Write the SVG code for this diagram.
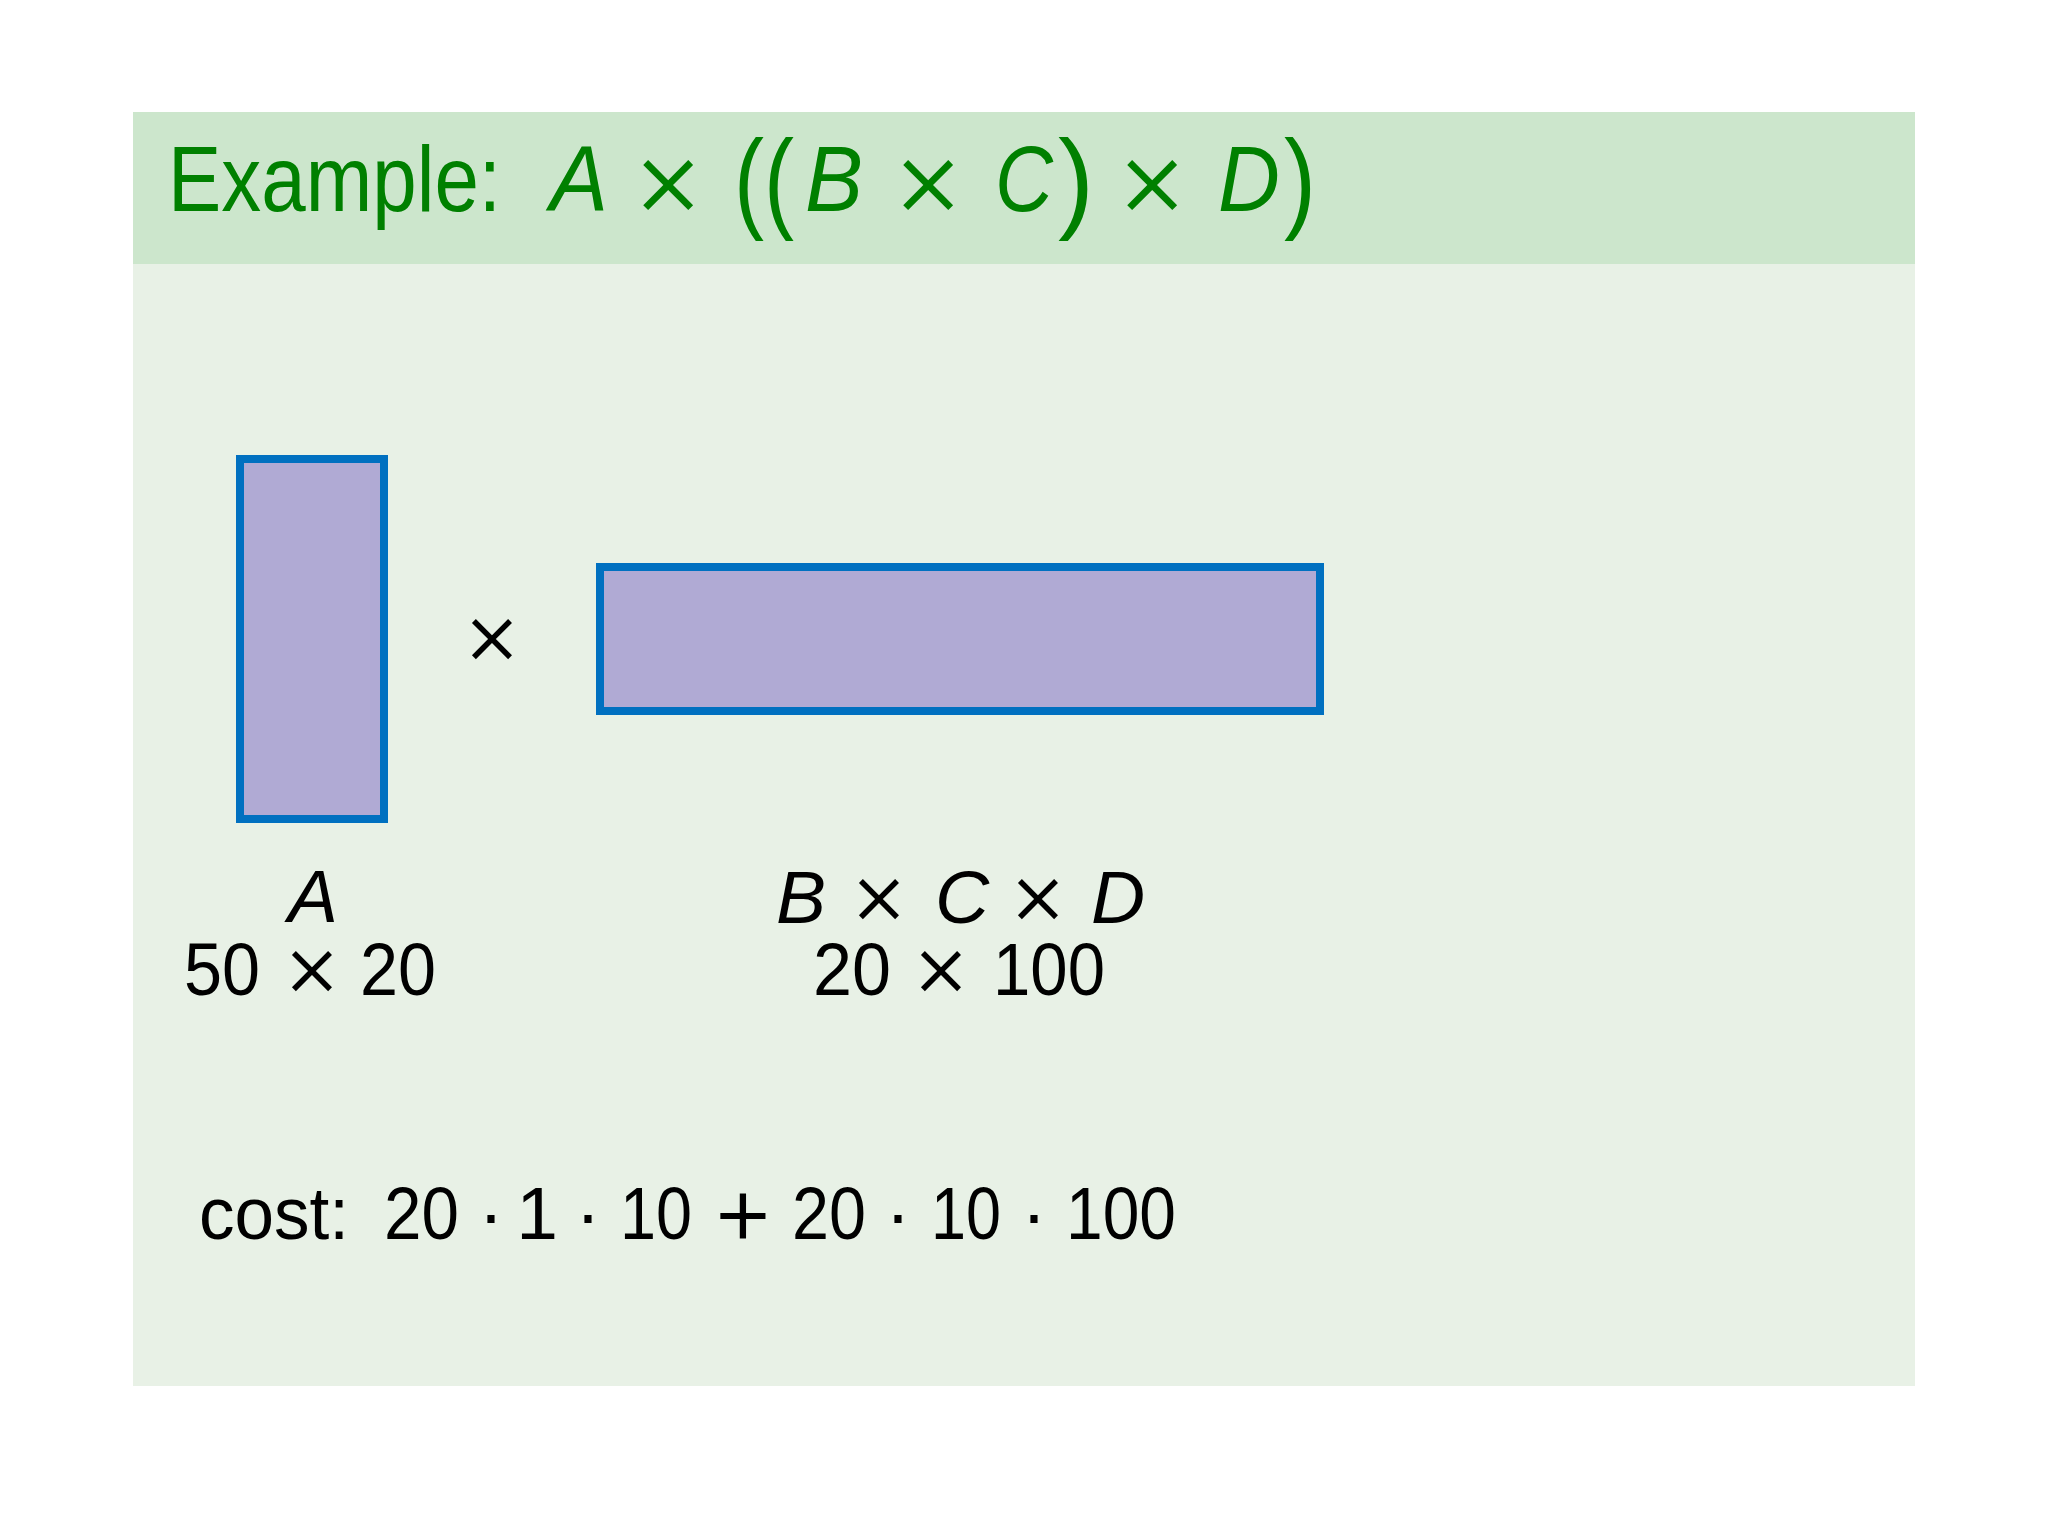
<svg xmlns="http://www.w3.org/2000/svg" width="2048" height="1536" viewBox="0 0 2048 1536">
<style>
.t{font-family:"Liberation Sans","DejaVu Sans",sans-serif;}
.title{fill:#008000;font-size:92px;}
.blk{fill:#000000;font-size:75px;}
.it{font-style:italic;}
.op{font-family:Inter,"Open Sans","Liberation Sans",sans-serif;font-weight:300;font-style:normal;}
.x{font-size:90px;}
.tx{font-size:112px;}
.mat{fill:#b0aad4;stroke:#0070c0;stroke-width:8;}
</style>
<rect x="0" y="0" width="2048" height="1536" fill="#ffffff"/>
<g id="block">
<rect x="133" y="264" width="1782" height="1122" fill="#e8f1e6"/>
<rect x="133" y="112" width="1782" height="152" fill="#cce6cc"/>
</g>
<g id="title">
<text class="t title" y="211"><tspan x="168" textLength="333" lengthAdjust="spacingAndGlyphs">Example:</tspan><tspan x="550" class="it" textLength="58" lengthAdjust="spacingAndGlyphs">A</tspan><tspan x="668" y="217" class="op tx" text-anchor="middle">×</tspan><tspan x="734" y="218" font-size="112" textLength="60" lengthAdjust="spacingAndGlyphs">((</tspan><tspan x="805" y="211" class="it" textLength="58" lengthAdjust="spacingAndGlyphs">B</tspan><tspan x="928" y="217" class="op tx" text-anchor="middle">×</tspan><tspan x="995" y="211" class="it" textLength="58" lengthAdjust="spacingAndGlyphs">C</tspan><tspan x="1058" y="218" font-size="112" textLength="36" lengthAdjust="spacingAndGlyphs">)</tspan><tspan x="1152" y="217" class="op tx" text-anchor="middle">×</tspan><tspan x="1218" y="211" class="it" textLength="62" lengthAdjust="spacingAndGlyphs">D</tspan><tspan x="1284" y="218" font-size="112" textLength="32" lengthAdjust="spacingAndGlyphs">)</tspan></text>
</g>
<g id="matrix-A">
<rect class="mat" x="240" y="459" width="144" height="360"/>
<text class="t blk"><tspan class="it" x="313" y="922" text-anchor="middle">A</tspan><tspan x="184" y="995" textLength="76" lengthAdjust="spacingAndGlyphs">50</tspan><tspan class="op x" x="312" y="997" text-anchor="middle">×</tspan><tspan x="360" y="995" textLength="76" lengthAdjust="spacingAndGlyphs">20</tspan></text>
</g>
<g id="times">
<text class="t blk op x" x="492" y="665" text-anchor="middle">×</text>
</g>
<g id="matrix-BCD">
<rect class="mat" x="600" y="567" width="720" height="144"/>
<text class="t blk"><tspan class="it" x="776" y="923">B</tspan><tspan class="op x" x="879" y="925" text-anchor="middle">×</tspan><tspan class="it" x="935" y="923">C</tspan><tspan class="op x" x="1038" y="925" text-anchor="middle">×</tspan><tspan class="it" x="1091" y="923">D</tspan><tspan x="813" y="995" textLength="78" lengthAdjust="spacingAndGlyphs">20</tspan><tspan class="op x" x="941" y="997" text-anchor="middle">×</tspan><tspan x="993" y="995" textLength="112" lengthAdjust="spacingAndGlyphs">100</tspan></text>
</g>
<g id="cost">
<text class="t blk" y="1239"><tspan x="199" textLength="150" lengthAdjust="spacingAndGlyphs">cost:</tspan><tspan x="384" textLength="75" lengthAdjust="spacingAndGlyphs">20</tspan><tspan x="491" text-anchor="middle">·</tspan><tspan x="537" text-anchor="middle">1</tspan><tspan x="588" text-anchor="middle">·</tspan><tspan x="620" textLength="72" lengthAdjust="spacingAndGlyphs">10</tspan><tspan class="op" x="743" y="1244" font-size="100" text-anchor="middle">+</tspan><tspan x="792" y="1239" textLength="74" lengthAdjust="spacingAndGlyphs">20</tspan><tspan x="898" text-anchor="middle">·</tspan><tspan x="931" textLength="70" lengthAdjust="spacingAndGlyphs">10</tspan><tspan x="1034" text-anchor="middle">·</tspan><tspan x="1066" textLength="110" lengthAdjust="spacingAndGlyphs">100</tspan></text>
</g>
<g id="connectors"></g>
</svg>
